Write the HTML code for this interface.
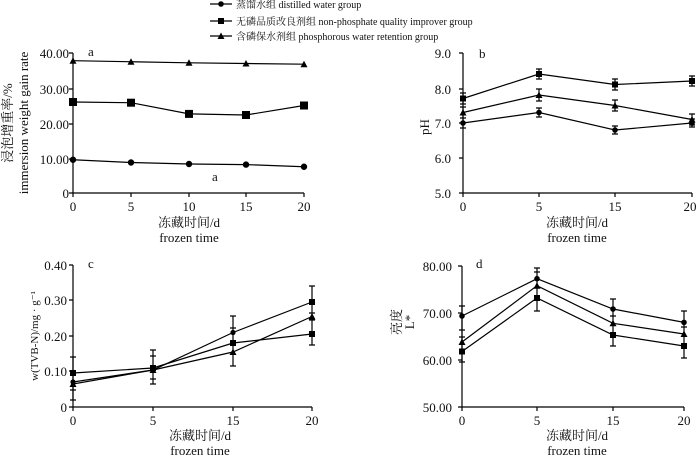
<!DOCTYPE html>
<html><head><meta charset="utf-8"><style>
html,body{margin:0;padding:0;background:#fff;}
svg{display:block;font-family:"Liberation Serif","Noto Serif CJK SC",serif;}
text{fill:#111;}
</style></head><body>
<svg width="700" height="459" viewBox="0 0 700 459" xmlns="http://www.w3.org/2000/svg">
<defs>
<path id="tri" d="M0,-3.5 L3.5,3 L-3.5,3 Z" fill="#000"/>
</defs>
<g stroke="#000" stroke-width="1.2" fill="none">
<!-- legend -->
<line x1="210" y1="4" x2="232" y2="4"/><line x1="210" y1="21" x2="232" y2="21"/><line x1="210" y1="36" x2="232" y2="36"/>
<!-- panel a axes -->
<path d="M73,53 V193 H304"/>
<path d="M69,53H73M69,89H73M69,124H73M69,159H73M69,193H73M73,193V197M131,193V197M189,193V197M246,193V197M304,193V197"/>
<polyline points="73,60.7 131,61.75 189,62.8 246,63.5 304,64.2"/>
<polyline points="73,102 131,102.7 189,113.9 246,115 304,105.5"/>
<polyline points="73,159.75 131,162.5 189,164 246,164.6 304,166.75"/>
<!-- panel b axes -->
<path d="M463,53 V193 H692"/>
<path d="M459,53H463M459,89H463M459,123H463M459,158H463M459,193H463M463,193V197M539,193V197M615,193V197M692,193V197"/>
<polyline points="463,98.5 539,74 615,84.5 692,81"/>
<polyline points="463,112.5 539,95 615,105.5 692,119.5"/>
<polyline points="463,123 539,112.5 615,130 692,123"/>
<path d="M463,93V104M460,93h6M460,104h6 M539,69V79M536,69h6M536,79h6 M615,79V90M612,79h6M612,90h6 M692,76V86M689,76h6M689,86h6
M463,107V118M460,107h6M460,118h6 M539,89V101M536,89h6M536,101h6 M615,100V111M612,100h6M612,111h6 M692,114V125M689,114h6M689,125h6
M463,118V128M460,118h6M460,128h6 M539,108V117M536,108h6M536,117h6 M615,126V134M612,126h6M612,134h6 M692,119V127M689,119h6M689,127h6"/>
<!-- panel c -->
<path d="M73,265 V407 H312"/>
<path d="M69,265H73M69,300H73M69,336H73M69,371H73M69,407H73M73,407V411M153,407V411M233,407V411M312,407V411"/>
<polyline points="73,382 153,370 233,332.5 312,302"/>
<polyline points="73,384 153,370 233,352 312,316.5"/>
<polyline points="73,373 153,368 233,343 312,334"/>
<path d="M73,357V400M70,357h6M70,400h6M70,373h6M70,390h6 M153,350V384M150,350h6M150,384h6M150,356h6M150,379h6 M233,316V366M230,316h6M230,366h6M230,328h6 M312,286V345M309,286h6M309,345h6M309,313h6M309,320h6"/>
<!-- panel d -->
<path d="M462,266 V407 H684"/>
<path d="M458,266H462M458,313H462M458,360H462M458,407H462M462,407V411M537,407V411M613,407V411M684,407V411"/>
<polyline points="462,316 537,278.7 613,309 684,322.4"/>
<polyline points="462,342 537,285.7 613,323.3 684,334"/>
<polyline points="462,351.5 537,298 613,335 684,346"/>
<path d="M462,306V362M459,306h6M459,362h6M459,330h6M459,337h6 M537,268V311M534,268h6M534,311h6M534,272h6 M613,299V346M610,299h6M610,346h6M610,316h6 M684,311V358M681,311h6M681,358h6M681,327h6"/>
</g>
<g fill="#000">
<!-- legend markers -->
<circle cx="221" cy="4" r="2.8"/><rect x="218" y="18" width="6" height="6"/><use href="#tri" x="221" y="36"/>
<!-- a -->
<use href="#tri" x="73" y="60.7"/><use href="#tri" x="131" y="61.75"/><use href="#tri" x="189" y="62.8"/><use href="#tri" x="246" y="63.5"/><use href="#tri" x="304" y="64.2"/>
<rect x="69" y="98" width="8" height="8"/><rect x="127" y="98.7" width="8" height="8"/><rect x="185" y="109.9" width="8" height="8"/><rect x="242" y="111" width="8" height="8"/><rect x="300" y="101.5" width="8" height="8"/>
<circle cx="73" cy="159.75" r="3.2"/><circle cx="131" cy="162.5" r="3.2"/><circle cx="189" cy="164" r="3.2"/><circle cx="246" cy="164.6" r="3.2"/><circle cx="304" cy="166.75" r="3.2"/>
<!-- b -->
<rect x="460" y="95.5" width="6" height="6"/><rect x="536" y="71" width="6" height="6"/><rect x="612" y="81.5" width="6" height="6"/><rect x="689" y="78" width="6" height="6"/>
<use href="#tri" x="463" y="112.5"/><use href="#tri" x="539" y="95"/><use href="#tri" x="615" y="105.5"/><use href="#tri" x="692" y="119.5"/>
<circle cx="463" cy="123" r="2.8"/><circle cx="539" cy="112.5" r="2.8"/><circle cx="615" cy="130" r="2.8"/><circle cx="692" cy="123" r="2.8"/>
<!-- c -->
<circle cx="73" cy="382" r="2.6"/><circle cx="153" cy="370" r="2.6"/><circle cx="233" cy="332.5" r="2.6"/><rect x="309" y="299" width="6" height="6"/>
<use href="#tri" x="73" y="384"/><use href="#tri" x="153" y="370"/><use href="#tri" x="233" y="352"/><use href="#tri" x="312" y="316.5"/>
<rect x="70" y="370" width="6" height="6"/><rect x="150" y="365" width="6" height="6"/><rect x="230" y="340" width="6" height="6"/><rect x="309" y="331" width="6" height="6"/>
<!-- d -->
<circle cx="462" cy="316" r="2.8"/><circle cx="537" cy="278.7" r="2.8"/><circle cx="613" cy="309" r="2.8"/><circle cx="684" cy="322.4" r="2.8"/>
<use href="#tri" x="462" y="342"/><use href="#tri" x="537" y="285.7"/><use href="#tri" x="613" y="323.3"/><use href="#tri" x="684" y="334"/>
<rect x="459" y="348.5" width="6" height="6"/><rect x="534" y="295" width="6" height="6"/><rect x="610" y="332" width="6" height="6"/><rect x="681" y="343" width="6" height="6"/>
</g>
<!-- legend text -->
<g font-size="10">
<text x="236" y="8">蒸馏水组 distilled water group</text>
<text x="236" y="25">无磷品质改良剂组 non-phosphate quality improver group</text>
<text x="236" y="40">含磷保水剂组 phosphorous water retention group</text>
</g>
<g font-size="13">
<!-- a -->
<text x="88" y="56">a</text><text x="212" y="181">a</text>
<g text-anchor="end"><text x="69" y="58">40.00</text><text x="69" y="94">30.00</text><text x="69" y="129">20.00</text><text x="69" y="164">10.00</text><text x="69" y="198">0</text></g>
<g text-anchor="middle"><text x="73" y="211">0</text><text x="131" y="211">5</text><text x="189" y="211">10</text><text x="246" y="211">15</text><text x="304" y="211">20</text>
<text x="189" y="227">冻藏时间/d</text><text x="189" y="242">frozen time</text>
<text transform="translate(12,123) rotate(-90)">浸泡增重率/%</text>
<text transform="translate(28,123) rotate(-90)">immersion weight gain rate</text></g>
<!-- b -->
<text x="479" y="58">b</text>
<g text-anchor="end"><text x="451" y="58">9.0</text><text x="451" y="94">8.0</text><text x="451" y="128">7.0</text><text x="451" y="163">6.0</text><text x="451" y="198">5.0</text></g>
<g text-anchor="middle"><text x="463" y="211">0</text><text x="539" y="211">5</text><text x="615" y="211">15</text><text x="690" y="211">20</text>
<text x="577" y="227">冻藏时间/d</text><text x="577" y="242">frozen time</text>
<text transform="translate(429,127) rotate(-90)">pH</text></g>
<!-- c -->
<text x="88" y="268">c</text>
<g text-anchor="end"><text x="67" y="270">0.40</text><text x="67" y="305">0.30</text><text x="67" y="341">0.20</text><text x="67" y="376">0.10</text><text x="67" y="412">0</text></g>
<g text-anchor="middle"><text x="73" y="425">0</text><text x="153" y="425">5</text><text x="233" y="425">15</text><text x="312" y="425">20</text>
<text x="200" y="440">冻藏时间/d</text><text x="200" y="455">frozen time</text>
<text transform="translate(38,336) rotate(-90)" font-size="11">w(TVB-N)/mg · g⁻¹</text></g>
<!-- d -->
<text x="476" y="268">d</text>
<g text-anchor="end"><text x="452" y="271">80.00</text><text x="452" y="318">70.00</text><text x="452" y="365">60.00</text><text x="452" y="412">50.00</text></g>
<g text-anchor="middle"><text x="462" y="425">0</text><text x="537" y="425">5</text><text x="613" y="425">15</text><text x="684" y="425">20</text>
<text x="577" y="440">冻藏时间/d</text><text x="577" y="455">frozen time</text>
<text transform="translate(401,322) rotate(-90)">亮度</text>
<text transform="translate(414,322) rotate(-90)">L*</text></g>
</g>
</svg>
</body></html>
